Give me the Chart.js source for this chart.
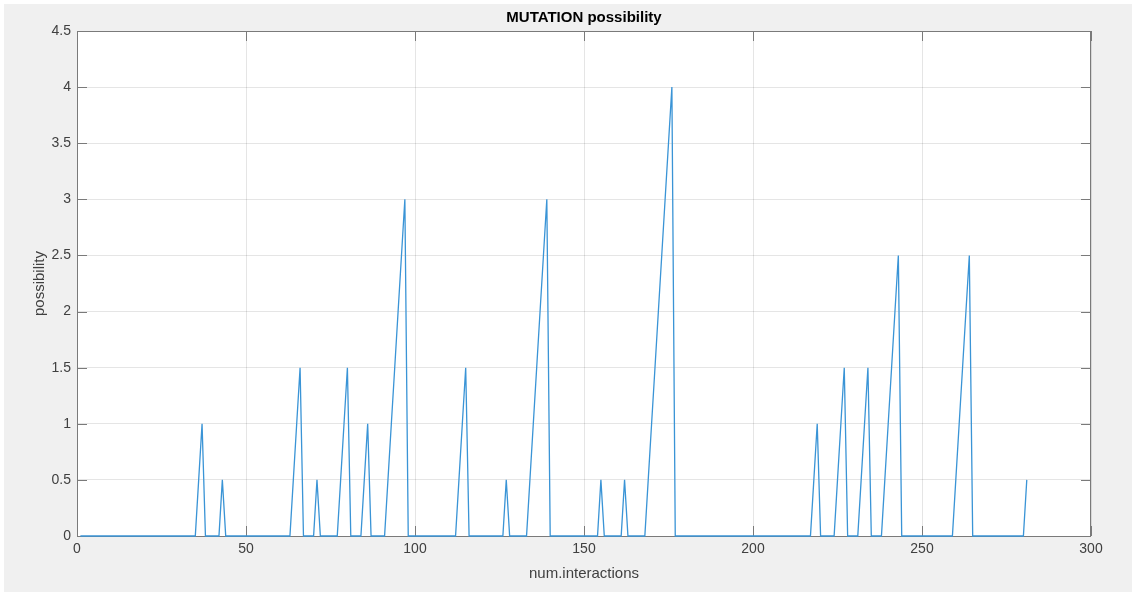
<!DOCTYPE html>
<html>
<head>
<meta charset="utf-8">
<title>MUTATION possibility</title>
<script src="https://cdn.jsdelivr.net/npm/chart.js@4/dist/chart.umd.min.js"></script>
<style>
  html, body { margin: 0; padding: 0; background: #ffffff; }
  canvas { display: block; }
</style>
</head>
<body>
<canvas id="mutationChart" width="1132" height="592"></canvas>
<script>
// iteration index and mutation possibility, only where the curve changes (zeros between spikes)
const iterations = [
  1,
  35, 36, 37, 38,
  42, 43, 44,
  63, 64, 65, 66, 67,
  70, 71, 72,
  77, 78, 79, 80, 81,
  84, 85, 86, 87,
  91, 92, 93, 94, 95, 96, 97, 98,
  112, 113, 114, 115, 116,
  126, 127, 128,
  133, 134, 135, 136, 137, 138, 139, 140,
  154, 155, 156,
  161, 162, 163,
  168, 169, 170, 171, 172, 173, 174, 175, 176, 177,
  217, 218, 219, 220,
  224, 225, 226, 227, 228,
  231, 232, 233, 234, 235,
  238, 239, 240, 241, 242, 243, 244,
  259, 260, 261, 262, 263, 264, 265,
  280, 281
];
const possibility = [
  0,
  0, 0.5, 1, 0,
  0, 0.5, 0,
  0, 0.5, 1, 1.5, 0,
  0, 0.5, 0,
  0, 0.5, 1, 1.5, 0,
  0, 0.5, 1, 0,
  0, 0.5, 1, 1.5, 2, 2.5, 3, 0,
  0, 0.5, 1, 1.5, 0,
  0, 0.5, 0,
  0, 0.5, 1, 1.5, 2, 2.5, 3, 0,
  0, 0.5, 0,
  0, 0.5, 0,
  0, 0.5, 1, 1.5, 2, 2.5, 3, 3.5, 4, 0,
  0, 0.5, 1, 0,
  0, 0.5, 1, 1.5, 0,
  0, 0.5, 1, 1.5, 0,
  0, 0.5, 1, 1.5, 2, 2.5, 0,
  0, 0.5, 1, 1.5, 2, 2.5, 0,
  0, 0.5
];
const xTicks = [0, 50, 100, 150, 200, 250, 300];
const yTicks = [0, 0.5, 1, 1.5, 2, 2.5, 3, 3.5, 4, 4.5];

const points = iterations.map((it, i) => ({ x: it, y: possibility[i] }));

const axisColor = '#7a7a7a';
const labelColor = '#404040';
const gridColor = 'rgba(0,0,0,0.1)';

// grey figure background, white plot area, matlab style box with inward ticks
const matlabAxes = {
  id: 'matlabAxes',
  beforeDraw(chart) {
    const { ctx, chartArea: a } = chart;
    ctx.save();
    ctx.fillStyle = '#f0f0f0';
    ctx.fillRect(4, 4, chart.width - 4, chart.height - 4);
    ctx.fillStyle = '#ffffff';
    ctx.fillRect(a.left, a.top, a.right - a.left, a.bottom - a.top);
    ctx.restore();
  },
  beforeDatasetsDraw(chart) {
    const { ctx, chartArea: a } = chart;
    const xs = chart.scales.x, ys = chart.scales.y;
    const tl = 10;
    ctx.save();
    ctx.strokeStyle = axisColor;
    ctx.lineWidth = 1;
    ctx.strokeRect(a.left + 0.5, a.top + 0.5, a.right - a.left - 1, a.bottom - a.top);
    ctx.beginPath();
    xTicks.forEach(v => {
      const px = Math.round(xs.getPixelForValue(v)) + 0.5;
      ctx.moveTo(px, a.bottom); ctx.lineTo(px, a.bottom - tl);
      ctx.moveTo(px, a.top); ctx.lineTo(px, a.top + tl);
    });
    yTicks.forEach(v => {
      const py = Math.round(ys.getPixelForValue(v)) + 0.5;
      ctx.moveTo(a.left, py); ctx.lineTo(a.left + tl, py);
      ctx.moveTo(a.right, py); ctx.lineTo(a.right - tl, py);
    });
    ctx.stroke();
    ctx.restore();
  }
};

const ctx = document.getElementById('mutationChart').getContext('2d');
const mutationChart = new Chart(ctx, {
  type: 'line',
  data: {
    datasets: [{
      label: 'possibility',
      data: points,
      borderColor: 'rgb(58,148,214)',
      borderWidth: 1.3,
      pointRadius: 0,
      tension: 0,
      fill: false,
      clip: false
    }]
  },
  options: {
    responsive: false,
    animation: false,
    devicePixelRatio: 1,
    layout: { padding: { left: 0, right: 41, top: 0, bottom: 0 } },
    plugins: {
      legend: { display: false },
      tooltip: { enabled: false },
      title: {
        display: true,
        text: 'MUTATION possibility',
        fullSize: false,
        color: '#000000',
        font: { family: 'Liberation Sans, Arial, sans-serif', size: 15, weight: 'bold' },
        padding: { top: 9, bottom: 4 }
      }
    },
    scales: {
      x: {
        type: 'linear',
        min: 0,
        max: 300,
        afterFit: s => { s.height = 56; },
        afterBuildTicks: s => { s.ticks = xTicks.map(v => ({ value: v })); },
        ticks: {
          color: labelColor,
          padding: 5,
          maxRotation: 0,
          callback: v => String(v),
          font: { family: 'Liberation Sans, Arial, sans-serif', size: 14 }
        },
        grid: { color: gridColor, drawTicks: false },
        border: { display: false },
        title: {
          display: true,
          text: 'num.interactions',
          color: labelColor,
          padding: { top: 0, bottom: 9 },
          font: { family: 'Liberation Sans, Arial, sans-serif', size: 15 }
        }
      },
      y: {
        type: 'linear',
        min: 0,
        max: 4.5,
        afterFit: s => { s.width = 77; },
        afterBuildTicks: s => { s.ticks = yTicks.map(v => ({ value: v })); },
        ticks: {
          color: labelColor,
          padding: 6,
          callback: v => String(v),
          font: { family: 'Liberation Sans, Arial, sans-serif', size: 14 }
        },
        grid: { color: gridColor, drawTicks: false },
        border: { display: false },
        title: {
          display: true,
          text: 'possibility',
          color: labelColor,
          padding: { top: 31, bottom: 0 },
          font: { family: 'Liberation Sans, Arial, sans-serif', size: 15 }
        }
      }
    }
  },
  plugins: [matlabAxes]
});
</script>
</body>
</html>
